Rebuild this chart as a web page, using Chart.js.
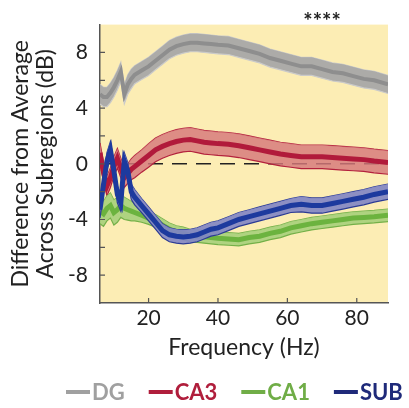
<!DOCTYPE html>
<html>
<head>
<meta charset="utf-8">
<script src="https://cdn.jsdelivr.net/npm/chart.js@4.4.1/dist/chart.umd.min.js"></script>
<style>
    html, body { margin: 0; padding: 0; background: #fff; }
    #wrap { width: 409px; height: 408px; }
</style>
</head>
<body>
<div id="wrap"><canvas id="chart" width="409" height="408"></canvas></div>
<script>
// ------------------ DATA ------------------
const freqs = [6, 7, 8, 9, 10, 11, 12, 13, 14, 15, 16, 18, 20, 22, 24, 26, 28, 30, 32, 34,
    36, 38, 40, 43, 46, 49, 52, 55, 58, 61, 64, 67, 70, 73, 76, 79, 82, 85, 89];

const dgMean = [5.0, 4.8, 4.8, 5.1, 5.5, 6.0, 6.6, 5.0, 5.7, 6.1, 6.4, 6.7, 7.0, 7.4, 7.8, 8.2, 8.45, 8.6, 8.7, 8.7,
    8.65, 8.6, 8.55, 8.5, 8.3, 8.1, 7.9, 7.6, 7.4, 7.2, 7.0, 7.0, 6.8, 6.6, 6.5, 6.3, 6.1, 6.0, 5.7];
const dgSem = [0.7, 0.7, 0.7, 0.7, 0.7, 0.7, 0.7, 0.7, 0.7, 0.7, 0.65, 0.65, 0.65, 0.65, 0.65, 0.65, 0.65, 0.65, 0.65, 0.65,
    0.65, 0.65, 0.65, 0.65, 0.65, 0.65, 0.65, 0.65, 0.65, 0.65, 0.65, 0.65, 0.65, 0.65, 0.65, 0.65, 0.65, 0.65, 0.65];

const ca3Mean = [0.8, -0.6, -1.6, -1.0, -0.2, 0.4, -0.3, -1.0, -0.7, -0.4, -0.2, 0.2, 0.6, 1.0, 1.25, 1.45, 1.6, 1.7, 1.75, 1.65,
    1.55, 1.5, 1.45, 1.4, 1.3, 1.15, 1.0, 0.85, 0.7, 0.6, 0.5, 0.5, 0.5, 0.45, 0.4, 0.35, 0.3, 0.2, 0.1];
const ca3Sem = [0.7, 0.7, 0.7, 0.7, 0.7, 0.7, 0.7, 0.7, 0.7, 0.75, 0.8, 0.8, 0.85, 0.85, 0.85, 0.85, 0.85, 0.85, 0.85, 0.85,
    0.85, 0.85, 0.85, 0.85, 0.85, 0.85, 0.85, 0.85, 0.85, 0.85, 0.85, 0.85, 0.85, 0.85, 0.85, 0.85, 0.85, 0.85, 0.85];

const ca1Mean = [-3.4, -3.6, -3.2, -3.0, -3.5, -3.3, -3.0, -3.2, -3.3, -3.4, -3.5, -3.7, -3.9, -4.1, -4.4, -4.7, -4.9, -5.0, -5.15, -5.2,
    -5.25, -5.3, -5.35, -5.4, -5.45, -5.3, -5.2, -5.0, -4.85, -4.6, -4.45, -4.3, -4.2, -4.1, -4.0, -3.9, -3.85, -3.8, -3.7];
const ca1Sem = [0.9, 0.9, 0.9, 0.9, 0.9, 0.9, 0.85, 0.8, 0.75, 0.7, 0.6, 0.5, 0.45, 0.45, 0.45, 0.45, 0.45, 0.45, 0.45, 0.45,
    0.45, 0.45, 0.45, 0.45, 0.45, 0.45, 0.45, 0.45, 0.45, 0.45, 0.45, 0.45, 0.45, 0.45, 0.45, 0.45, 0.45, 0.45, 0.45];

const subMean = [-3.3, -1.5, 0.2, 1.0, -0.5, -2.2, -2.8, 0.2, -0.5, -2.0, -2.4, -3.0, -3.6, -4.2, -4.8, -5.1, -5.2, -5.25, -5.2, -5.1,
    -4.9, -4.7, -4.6, -4.3, -4.0, -3.8, -3.6, -3.4, -3.2, -3.0, -2.9, -3.0, -3.0, -2.85, -2.7, -2.55, -2.4, -2.2, -2.0];
const subSem = [0.6, 0.6, 0.6, 0.6, 0.6, 0.6, 0.6, 0.6, 0.6, 0.55, 0.55, 0.5, 0.5, 0.5, 0.5, 0.5, 0.5, 0.5, 0.5, 0.5,
    0.5, 0.5, 0.5, 0.5, 0.5, 0.5, 0.5, 0.5, 0.5, 0.5, 0.55, 0.55, 0.55, 0.55, 0.55, 0.55, 0.55, 0.55, 0.55];

const xTicks = [20, 40, 60, 80];
const yRange = [-10, 10];
const xRange = [6, 89];
const zeroLine = [6, 89];
const starFreq = 70;

// ------------------ STYLES ------------------
const series = [
    { name: 'DG',  mean: dgMean,  sem: dgSem,  width: 4, line: '#8e8e8e', band: 'rgba(168,168,168,0.95)', edge: '#cacaca', legend: '#a0a0a0' },
    { name: 'CA3', mean: ca3Mean, sem: ca3Sem, width: 5, line: '#b11a3b', band: 'rgba(214,120,122,0.82)', edge: '#b3223d', legend: '#b01e3c' },
    { name: 'CA1', mean: ca1Mean, sem: ca1Sem, width: 5, line: '#6cb33f', band: 'rgba(166,207,122,0.9)',  edge: '#74b048', legend: '#70ad47' },
    { name: 'SUB', mean: subMean, sem: subSem, width: 5, line: '#1d3a9e', band: 'rgba(130,135,196,0.92)', edge: '#2b3b95', legend: '#1f2a7a' },
];

const FONT = 'Lato, "Open Sans", sans-serif';

function pts(values) {
    return freqs.map((f, i) => ({ x: f, y: values[i] }));
}

function buildDatasets() {
    const sets = [];
    series.forEach((s, k) => {
        const base = (3 - k) * 10;
        const upper = s.mean.map((m, i) => m + s.sem[i]);
        const lower = s.mean.map((m, i) => m - s.sem[i]);
        sets.push({ data: pts(upper), borderColor: s.edge, borderWidth: 1.2, pointRadius: 0, fill: false, order: base + 2 });
        sets.push({ data: pts(lower), borderColor: s.edge, borderWidth: 1.2, pointRadius: 0, fill: '-1', backgroundColor: s.band, order: base + 1 });
        sets.push({ data: pts(s.mean), borderColor: s.line, borderWidth: s.width, pointRadius: 0, fill: false, order: base });
    });
    sets.push({
        data: zeroLine.map(f => ({ x: f, y: 0 })),
        borderColor: '#222', borderWidth: 1.6, borderDash: [15, 9], pointRadius: 0, fill: false, order: 25
    });
    return sets;
}

// ------------------ PLUGINS ------------------
const backdrop = {
    id: 'backdrop',
    beforeDraw(chart) {
        const { ctx, chartArea: a } = chart;
        ctx.save();
        ctx.fillStyle = '#fff';
        ctx.fillRect(0, 0, chart.width, chart.height);
        ctx.fillStyle = '#fcedb4';
        ctx.fillRect(a.left, a.top, a.right - a.left, a.bottom - a.top);
        ctx.restore();
    }
};

const extras = {
    id: 'extras',
    afterDraw(chart) {
        const { ctx, chartArea: a, scales: { x, y } } = chart;
        ctx.save();

        // inward tick marks
        ctx.strokeStyle = '#555';
        ctx.lineWidth = 1.2;
        ctx.beginPath();
        y.ticks.forEach(t => {
            if (t.value <= yRange[0] || t.value >= yRange[1]) return;
            const py = y.getPixelForValue(t.value);
            ctx.moveTo(a.left, py);
            ctx.lineTo(a.left + 5, py);
        });
        x.ticks.forEach(t => {
            const px = x.getPixelForValue(t.value);
            ctx.moveTo(px, a.bottom);
            ctx.lineTo(px, a.bottom - 5);
        });
        ctx.stroke();

        // significance stars
        ctx.fillStyle = '#222';
        ctx.font = 'bold 22px ' + FONT;
        ctx.textAlign = 'center';
        ctx.textBaseline = 'alphabetic';
        ctx.fillText('****', x.getPixelForValue(starFreq), a.top + 4);

        // legend
        ctx.font = 'bold 22px ' + FONT;
        ctx.textAlign = 'left';
        ctx.textBaseline = 'middle';
        let lx = 66;
        const ly = 392;
        series.forEach(s => {
            ctx.strokeStyle = s.legend;
            ctx.lineWidth = 4;
            ctx.beginPath();
            ctx.moveTo(lx, ly);
            ctx.lineTo(lx + 24, ly);
            ctx.stroke();
            ctx.fillStyle = s.legend;
            ctx.fillText(s.name, lx + 26, ly + 1);
            lx += 26 + ctx.measureText(s.name).width + 24;
        });
        ctx.restore();
    }
};

// ------------------ CHART ------------------
new Chart(document.getElementById('chart'), {
    type: 'line',
    data: { datasets: buildDatasets() },
    options: {
        responsive: false,
        animation: false,
        layout: { padding: { top: 15, right: 21, bottom: 45, left: 0 } },
        plugins: { legend: { display: false }, tooltip: { enabled: false } },
        scales: {
            x: {
                type: 'linear',
                min: xRange[0],
                max: xRange[1],
                afterBuildTicks: s => { s.ticks = xTicks.map(v => ({ value: v })); },
                afterFit: s => { s.height = 60; },
                ticks: { font: { family: FONT, size: 21 }, color: '#222', padding: 3, autoSkip: false, maxRotation: 0 },
                grid: { drawOnChartArea: false, drawTicks: false },
                border: { color: '#555', width: 1.5 },
                title: { display: true, text: 'Frequency (Hz)', font: { family: FONT, size: 23, lineHeight: 1.1 }, color: '#222', padding: { top: 0, bottom: 3 } }
            },
            y: {
                min: yRange[0],
                max: yRange[1],
                afterFit: s => { s.width = 100; },
                ticks: {
                    stepSize: 2,
                    autoSkip: false,
                    font: { family: FONT, size: 21 },
                    color: '#222',
                    padding: 12,
                    callback: v => (v % 4 === 0 && Math.abs(v) <= 8) ? String(v) : ''
                },
                grid: { drawOnChartArea: false, drawTicks: false },
                border: { color: '#555', width: 1.5 },
                title: {
                    display: true,
                    text: ['Difference from Average', 'Across Subregions (dB)'],
                    font: { family: FONT, size: 23, lineHeight: 1.1 },
                    color: '#222',
                    padding: { top: 8, bottom: 0 }
                }
            }
        }
    },
    plugins: [backdrop, extras]
});
</script>
</body>
</html>
